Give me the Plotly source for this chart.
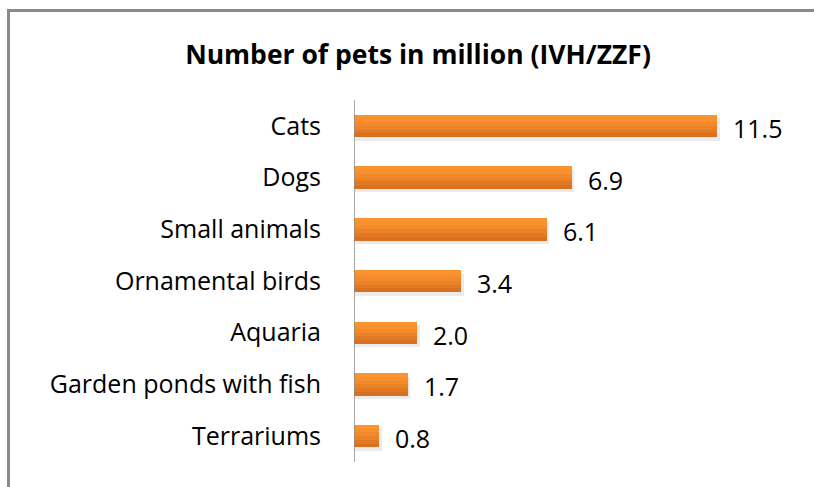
import plotly.graph_objects as go

categories = ["Cats", "Dogs", "Small animals", "Ornamental birds", "Aquaria",
              "Garden ponds with fish", "Terrariums"]
values = [11.5, 6.9, 6.1, 3.4, 2.0, 1.7, 0.8]
title_text = "Number of pets in million (IVH/ZZF)"

W, H = 814, 487
ML, MR, MT, MB = 354, 24, 100, 25
PW, PH = W - ML - MR, H - MT - MB
XMAX = PW / 31.57

FONT = "Open Sans, sans-serif"

fig = go.Figure()

BW = 0.43
# soft shadow
fig.add_trace(go.Bar(
    y=categories, x=[v + 0.05 for v in values], orientation="h",
    width=BW, offset=-BW / 2 + 0.07, base=0.03,
    marker=dict(color="rgba(0,0,0,0.08)", line=dict(width=0)),
    hoverinfo="skip", showlegend=False))

# gradient bands (top light -> bottom dark)
band_colors = ["#fb942f", "#f8902e", "#f28a2b", "#ea8227", "#e17924", "#d87020"]
nb = len(band_colors)
for i, c in enumerate(band_colors):
    fig.add_trace(go.Bar(
        y=categories, x=values, orientation="h",
        width=BW / nb + 0.003, offset=-BW / 2 + i * BW / nb,
        marker=dict(color=c, line=dict(width=0)),
        hoverinfo="skip", showlegend=False))

for c, v in zip(categories, values):
    fig.add_annotation(x=v, y=c, xref="x", yref="y", text=f"{v:.1f}",
                       showarrow=False, xanchor="left", yanchor="middle",
                       xshift=14, yshift=-2,
                       font=dict(family=FONT, size=25, color="#000000"))

def px(x):
    return (x - ML) / PW

def py(y):
    return (H - MB - y) / PH

# outer frame (partially off-canvas)
frame_col = "#8a8a8a"
fig.add_shape(type="line", xref="paper", yref="paper",
              x0=px(8.5), x1=px(8.5), y0=py(10.5), y1=py(520),
              line=dict(color=frame_col, width=3))
fig.add_shape(type="line", xref="paper", yref="paper",
              x0=px(7), x1=px(840), y0=py(10.5), y1=py(10.5),
              line=dict(color=frame_col, width=3))

fig.update_layout(
    width=W, height=H,
    margin=dict(l=ML, r=MR, t=MT, b=MB),
    paper_bgcolor="white", plot_bgcolor="white",
    barmode="overlay", bargap=0,
    title=dict(text=f"<b>{title_text}</b>", x=418 / W, xanchor="center",
               y=1 - 55 / H, yanchor="middle", xref="container", yref="container",
               font=dict(family=FONT, size=26.5, color="#000000")),
    xaxis=dict(range=[0, XMAX], visible=False, fixedrange=True),
    yaxis=dict(type="category", categoryorder="array", categoryarray=categories,
               autorange="reversed", showgrid=False, zeroline=False,
               showline=False, ticks="", ticklabelstandoff=32,
               tickfont=dict(family=FONT, size=25, color="#000000")),
    showlegend=False,
)
fig.add_shape(type="line", xref="x", yref="paper", x0=0, x1=0, y0=0, y1=1,
              line=dict(color="#8c8c8c", width=1.5))

fig.write_html("out.html", config={"displayModeBar": False},
               post_script="document.body.style.margin='0';document.body.style.overflow='hidden';")
